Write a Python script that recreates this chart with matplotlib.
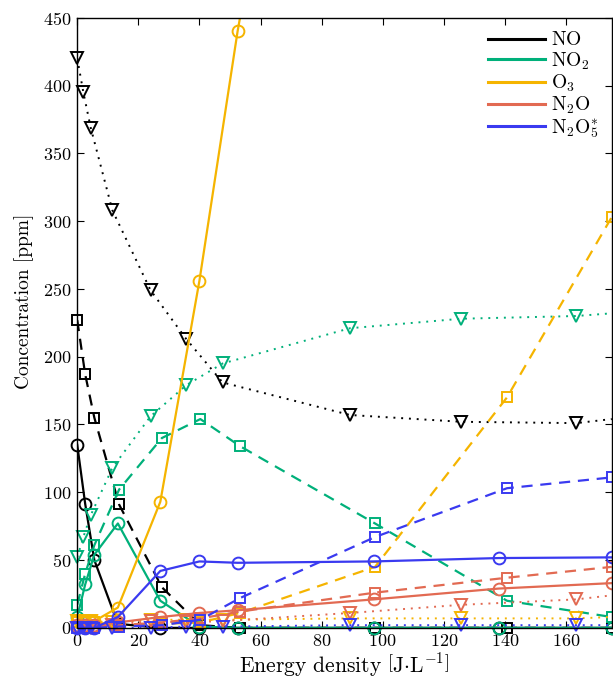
import matplotlib
matplotlib.use("Agg")
import matplotlib.pyplot as plt

plt.rcParams["font.family"] = "cmr10"
plt.rcParams["mathtext.fontset"] = "cm"
plt.rcParams["axes.formatter.use_mathtext"] = True

# x positions (energy density, J/L) for each marker type
x_circ = [0, 2.6, 5.6, 13.3, 27.2, 40.0, 52.5, 97.0, 138.0, 175.0]
x_sq = [0, 2.6, 5.6, 13.7, 27.7, 40.3, 53.3, 97.5, 140.7, 175.0]
x_tri = [0, 2.0, 4.4, 11.5, 24.0, 35.7, 47.6, 89.3, 125.7, 163.3, 175.0]

# concentrations (ppm)
no_circ = [135, 91.5, 50, 3, 0, 0, 0, 0, 0, 0]
no_sq = [227, 187, 155, 91, 30, 2, 0, 0, 0, 0]
no_tri = [420, 395, 369, 308, 249, 213, 181, 157, 152, 151, 154]

no2_circ = [8, 32, 54, 77, 20, 1, 0, 0, 0, 0]
no2_sq = [17, 40, 61, 102, 140, 154, 134, 77, 20, 8]
no2_tri = [52, 67, 83, 118, 156, 179, 195, 221, 228, 230, 232]

o3_circ = [5, 5, 5, 15, 93, 256, 440, 1000]
o3_sq = [4, 4, 4, 2, 3, 4, 11, 45, 170, 303]
o3_tri = [5, 5, 5, 4, 6, 6, 6, 7, 7, 7, 8]

n2o_circ = [2, 2, 2, 4, 8, 11, 13, 21, 29, 33]
n2o_sq = [1, 1, 1, 2, 4, 7, 12, 26, 37, 45]
n2o_tri = [0, 0, 0, 2, 5, 4, 5, 11, 17, 21, 24]

n2o5_circ = [0, 0, 0, 8, 42, 49, 48, 49, 51.5, 52]
n2o5_sq = [0, 0, 0, 1, 2, 6, 22, 67, 103, 111]
n2o5_tri = [0, 0, 0, 0, 0, 1, 1, 2, 2, 2, 2]

species = [
    (r"$\mathrm{NO}$", "black", no_circ, no_sq, no_tri),
    (r"$\mathrm{NO}_2$", "#00b07a", no2_circ, no2_sq, no2_tri),
    (r"$\mathrm{O}_3$", "#f5b400", o3_circ, o3_sq, o3_tri),
    (r"$\mathrm{N}_2\mathrm{O}$", "#e26a52", n2o_circ, n2o_sq, n2o_tri),
    (r"$\mathrm{N}_2\mathrm{O}_5^{*}$", "#3a3af0", n2o5_circ, n2o5_sq, n2o5_tri),
]

YMAX = 450

fig = plt.figure(figsize=(6.13, 6.81), dpi=100)
ax = fig.add_axes([0.126, 0.078, 0.872, 0.896])


def draw(x, y, color, ls, lw, marker, ms, n_marked):
    """Line clipped to the axes, markers left unclipped like the original."""
    x = x[:len(y)]
    ax.plot(x, y, color=color, ls=ls, lw=lw)
    mx = [a for a, b in zip(x[:n_marked], y[:n_marked]) if b <= YMAX]
    my = [b for b in y[:n_marked] if b <= YMAX]
    ax.plot(mx, my, ls="none", marker=marker, markersize=ms, color=color,
            markerfacecolor="none", markeredgewidth=1.4, clip_on=False)


legend_handles = []
for label, color, circ, sq, tri in species:
    draw(x_circ, circ, color, "-", 1.6, "o", 8.5, len(circ))
    draw(x_sq, sq, color, (0, (5, 3.5)), 1.6, "s", 7, len(sq))
    draw(x_tri, tri, color, (0, (1, 3)), 1.4, "v", 8.5, len(tri) - 1)
    lh, = ax.plot([], [], "-", color=color, lw=2.2, label=label)
    legend_handles.append(lh)

ax.set_xlim(0, 175)
ax.set_ylim(0, YMAX)
ax.set_xticks(range(0, 161, 20))
ax.set_yticks(range(0, 451, 50))
ax.tick_params(direction="in", top=True, right=True, length=5, width=0.8,
               labelsize=13, pad=4)
for s in ax.spines.values():
    s.set_linewidth(1.0)

ax.set_xlabel(r"Energy density $\left[\mathrm{J{\cdot}L}^{-1}\right]$", fontsize=15.5, labelpad=1)
ax.set_ylabel("Concentration [ppm]", fontsize=14)
ax.yaxis.set_label_coords(-0.08, 0.535)

ax.legend(handles=legend_handles, loc="upper right", frameon=False, fontsize=14,
          handlelength=2.9, handletextpad=0.3, labelspacing=0.05,
          borderaxespad=0.3)

fig.savefig("out.png", dpi=100)
